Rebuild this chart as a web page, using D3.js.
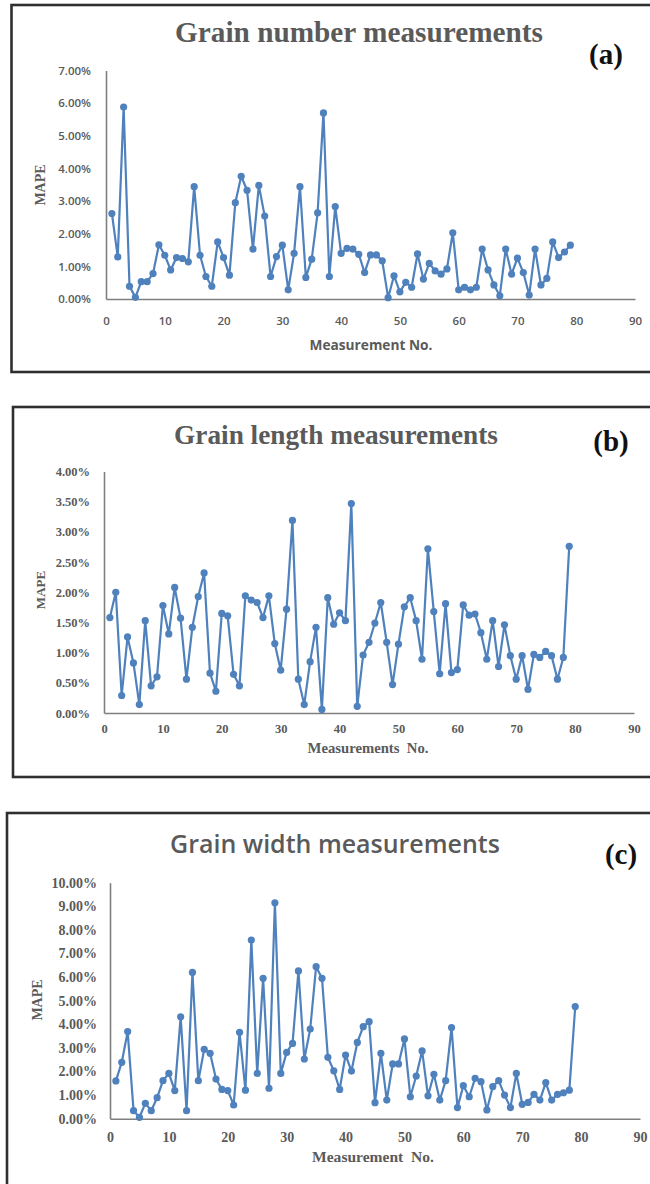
<!DOCTYPE html>
<html><head><meta charset="utf-8">
<script src="https://cdn.jsdelivr.net/npm/d3@7"></script>
<style>body{margin:0;background:#fff}svg{display:block}</style>
</head><body>
<svg id="chart" width="650" height="1184"></svg>
<script>
// ---- data ----
const measurementNo = d3.range(1, 80);
const grainNumberMAPE = [2.62,1.29,5.88,0.39,0.05,0.53,0.53,0.78,1.66,1.34,
 0.89,1.27,1.24,1.14,3.44,1.34,0.69,0.39,1.75,1.27,
 0.73,2.95,3.76,3.33,1.53,3.48,2.54,0.69,1.30,1.65,
 0.28,1.40,3.44,0.66,1.22,2.64,5.70,0.69,2.83,1.40,
 1.55,1.53,1.37,0.81,1.35,1.35,1.17,0.04,0.71,0.22,
 0.51,0.36,1.38,0.61,1.09,0.86,0.76,0.92,2.03,0.28,
 0.36,0.28,0.36,1.53,0.89,0.43,0.10,1.53,0.76,1.25,
 0.81,0.12,1.53,0.43,0.63,1.75,1.27,1.44,1.65];
const grainLengthMAPE = [1.58,2.00,0.29,1.26,0.83,0.14,1.53,0.45,0.60,1.78,
 1.31,2.08,1.57,0.56,1.42,1.93,2.32,0.66,0.36,1.65,
 1.61,0.64,0.45,1.94,1.87,1.83,1.58,1.94,1.15,0.71,
 1.72,3.19,0.56,0.14,0.85,1.42,0.06,1.91,1.47,1.66,
 1.53,3.47,0.11,0.96,1.17,1.49,1.83,1.17,0.47,1.14,
 1.76,1.91,1.53,0.89,2.72,1.68,0.65,1.81,0.67,0.72,
 1.79,1.62,1.64,1.33,0.89,1.53,0.77,1.46,0.95,0.56,
 0.95,0.39,0.97,0.92,1.02,0.95,0.56,0.92,2.76];
const grainWidthMAPE = [1.60,2.39,3.69,0.34,0.06,0.65,0.34,0.89,1.61,1.92,
 1.19,4.32,0.34,6.20,1.61,2.94,2.77,1.68,1.24,1.19,
 0.58,3.66,1.21,7.57,1.92,5.95,1.29,9.15,1.92,2.81,
 3.19,6.26,2.53,3.80,6.44,5.95,2.60,2.03,1.24,2.70,
 2.02,3.23,3.90,4.11,0.68,2.77,0.79,2.32,2.32,3.38,
 0.93,1.81,2.87,0.97,1.88,0.79,1.61,3.86,0.47,1.40,
 0.93,1.71,1.57,0.37,1.36,1.61,1.00,0.47,1.92,0.61,
 0.69,1.03,0.79,1.53,0.79,1.03,1.10,1.21,4.75];
const xTicks = [0,10,20,30,40,50,60,70,80,90];
const yTicksNumber = [0,1,2,3,4,5,6,7];
const yTicksLength = [0,0.5,1,1.5,2,2.5,3,3.5,4];
const yTicksWidth = [0,1,2,3,4,5,6,7,8,9,10];
const titles = ["Grain number measurements","Grain length measurements","Grain width measurements"];
const panelTags = ["(a)","(b)","(c)"];
const xTitles = ["Measurement No.","Measurements  No.","Measurement  No."];
const yTitle = "MAPE";

// ---- layout ----
const SERIF = "'Liberation Serif','Times New Roman',serif";
const SANS = "'Open Sans','Liberation Sans',sans-serif";
const BLUE = "#4f81bd";
const GRAY = "#5a5a5a";

const panels = [
  {values: grainNumberMAPE, yTicks: yTicksNumber, yMax: 7,
   box: [11.5, 5, 680, 372], xr: [106, 635], yr: [299, 70.5],
   title: {x: 359, y: 42, w: 368, font: SERIF, weight: 700},
   tag: {x: 606, y: 64},
   tickFont: SANS, tickWeight: 600, tickSize: 11.5, yPad: 15, xLabelY: 321,
   xTitle: {x: 371, y: 350, w: 123, font: SANS, weight: 700},
   mape: {x: 40, y: 185, size: 14}},
  {values: grainLengthMAPE, yTicks: yTicksLength, yMax: 4,
   box: [13, 407, 680, 777], xr: [104, 634], yr: [713, 471.5],
   title: {x: 336, y: 444, w: 324, font: SERIF, weight: 700},
   tag: {x: 611, y: 451},
   tickFont: SERIF, tickWeight: 700, tickSize: 12.5, yPad: 14, xLabelY: 729,
   xTitle: {x: 368, y: 753, w: 121, font: SERIF, weight: 700},
   mape: {x: 40, y: 590, size: 13}},
  {values: grainWidthMAPE, yTicks: yTicksWidth, yMax: 10,
   box: [7, 813, 680, 1200], xr: [110, 640], yr: [1118.7, 882.7],
   title: {x: 335, y: 853, w: 330, font: SANS, weight: 600},
   tag: {x: 621, y: 864},
   tickFont: SERIF, tickWeight: 700, tickSize: 14, yPad: 13, xLabelY: 1137,
   xTitle: {x: 373, y: 1162, w: 122, font: SERIF, weight: 700},
   mape: {x: 37, y: 1000, size: 14}}
];

const svg = d3.select("#chart");
const fmt = d => d3.format(".2f")(d) + "%";

function fitText(sel, target) {
  const fs = parseFloat(sel.attr("font-size"));
  const w = sel.node().getComputedTextLength();
  if (w > 0) sel.attr("font-size", fs * target / w);
}

panels.forEach((p, i) => {
  const g = svg.append("g");
  // frame
  g.append("rect").attr("x", p.box[0]).attr("y", p.box[1])
    .attr("width", p.box[2] - p.box[0]).attr("height", p.box[3] - p.box[1])
    .attr("fill", "none").attr("stroke", "#2f2f2f").attr("stroke-width", 2.6);

  const x = d3.scaleLinear().domain([0, 90]).range(p.xr);
  const y = d3.scaleLinear().domain([0, p.yMax]).range(p.yr);

  // y axis
  const ya = g.append("g").attr("transform", `translate(${p.xr[0]},0)`)
    .call(d3.axisLeft(y).tickValues(p.yTicks).tickFormat(fmt).tickSize(0).tickSizeOuter(0).tickPadding(p.yPad));
  // x axis
  const xa = g.append("g").attr("transform", `translate(0,${p.yr[0]})`)
    .call(d3.axisBottom(x).tickValues(xTicks).tickFormat(d3.format("d")).tickSize(0).tickSizeOuter(0));
  [ya, xa].forEach(a => {
    a.select(".domain").attr("stroke", "#7f7f7f").attr("stroke-width", 1.6);
    a.selectAll("text").attr("fill", GRAY).attr("font-family", p.tickFont)
      .attr("font-weight", p.tickWeight).attr("font-size", p.tickSize);
  });
  xa.selectAll("text").attr("y", p.xLabelY - p.yr[0]).attr("dy", "0.35em");

  // line + markers
  const pts = measurementNo.map((n, k) => [n, p.values[k]]);
  g.append("path").datum(pts)
    .attr("fill", "none").attr("stroke", BLUE).attr("stroke-width", 2.2)
    .attr("stroke-linejoin", "round")
    .attr("d", d3.line().x(d => x(d[0])).y(d => y(d[1])));
  g.selectAll("circle.m").data(pts).join("circle").attr("class", "m")
    .attr("cx", d => x(d[0])).attr("cy", d => y(d[1])).attr("r", 3.6)
    .attr("fill", BLUE);

  // title
  const t = g.append("text").text(titles[i]).attr("x", p.title.x).attr("y", p.title.y)
    .attr("text-anchor", "middle").attr("font-family", p.title.font)
    .attr("font-weight", p.title.weight).attr("font-size", 26).attr("fill", GRAY);
  fitText(t, p.title.w);
  // tag
  g.append("text").text(panelTags[i]).attr("x", p.tag.x).attr("y", p.tag.y)
    .attr("text-anchor", "middle").attr("font-family", SERIF)
    .attr("font-weight", 700).attr("font-size", 29).attr("fill", "#111");
  // x title
  const xt = g.append("text").text(xTitles[i]).attr("x", p.xTitle.x).attr("y", p.xTitle.y)
    .attr("text-anchor", "middle").attr("font-family", p.xTitle.font)
    .attr("font-weight", p.xTitle.weight).attr("font-size", 13).attr("fill", GRAY)
    .attr("xml:space", "preserve").style("white-space", "pre");
  fitText(xt, p.xTitle.w);
  // y title
  g.append("text").text(yTitle)
    .attr("transform", `translate(${p.mape.x},${p.mape.y}) rotate(-90)`)
    .attr("text-anchor", "middle").attr("dy", "0.35em")
    .attr("font-family", SERIF).attr("font-weight", 700)
    .attr("font-size", p.mape.size).attr("fill", GRAY);
});
</script>
</body></html>
